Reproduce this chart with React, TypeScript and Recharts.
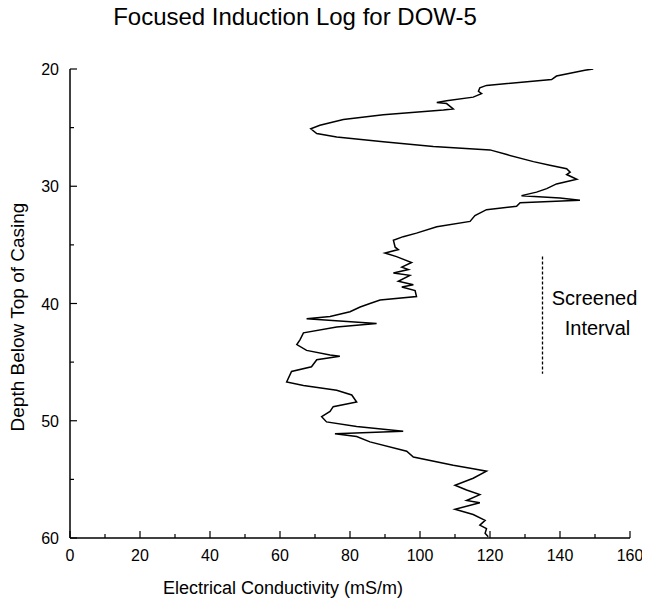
import React from "react";
import { LineChart, Line, XAxis, YAxis, ReferenceLine } from "recharts";

const depths = [
  20.0, 20.1, 20.6, 20.9, 21.4, 21.6, 21.9, 22.1, 22.4, 22.7, 22.85, 22.95, 23.4, 23.5, 23.9, 24.3, 24.8, 25.1, 25.5, 25.8,
  26.2, 26.6, 26.9, 27.3, 27.9, 28.2, 28.5, 28.8, 29.0, 29.4, 29.8, 30.2, 30.5, 30.8, 31.0, 31.2, 31.4, 31.7, 32.0, 32.5,
  33.0, 33.45, 34.0, 34.3, 34.6, 35.2, 35.4, 35.7, 36.0, 36.5, 36.9, 37.1, 37.4, 37.6, 38.1, 38.4, 38.6, 38.9, 39.4, 39.7,
  40.0, 40.3, 40.7, 41.1, 41.3, 41.7, 42.0, 42.5, 43.1, 43.5, 44.0, 44.4, 44.5, 44.8, 45.4, 45.8, 46.7, 47.0, 47.4, 47.8,
  48.4, 48.8, 49.2, 49.65, 50.1, 50.5, 50.9, 51.1, 51.35, 51.8, 52.6, 53.1, 53.8, 54.1, 54.3, 54.9, 55.5, 55.9, 56.3, 56.8,
  57.0, 57.55, 58.0, 58.5, 58.9, 59.2, 59.6, 59.9,
];

const conductivity = [
  149.5, 147.1, 139, 137.6, 119, 117.1, 116.7, 117.6, 115.2, 107.6, 104.8, 107.6, 109.5, 106.7, 89.5, 78.1, 71.4, 68.8, 70.5, 76.2,
  89.5, 103.8, 120, 124.8, 132.4, 137.1, 141.9, 142.9, 141.9, 144.8, 139, 136.2, 133.3, 129, 140, 145.7, 128.6, 127.6, 119, 115.7,
  114.3, 104.8, 99, 95.2, 92.4, 92.9, 93.8, 90, 93.3, 97.6, 94.8, 96.7, 92.4, 97.1, 93.8, 98.1, 94.8, 98.6, 99, 88.6,
  85.7, 82.9, 80, 74.3, 67.6, 87.6, 76.2, 66.7, 65.7, 64.8, 67.6, 74.3, 77.1, 70.5, 69, 63.3, 61.9, 66.7, 76.2, 80.5,
  81.9, 75.2, 74.3, 71.9, 73.3, 81.9, 95.2, 75.7, 81.9, 85.7, 96.2, 98.1, 109.5, 115.2, 119, 115.2, 110, 113.3, 117.1, 113.3,
  117.1, 110, 115.2, 118.6, 117.1, 119, 118.6, 119.5,
];

const xTicks = [0, 10, 20, 30, 40, 50, 60, 70, 80, 90, 100, 110, 120, 130, 140, 150, 160];
const yTicks = [20, 25, 30, 35, 40, 45, 50, 55, 60];

const screenedX = 135;
const screenedTop = 36;
const screenedBottom = 46;

const title = "Focused Induction Log for DOW-5";
const xTitle = "Electrical Conductivity (mS/m)";
const yTitle = "Depth Below Top of Casing";
const noteLines = ["Screened", "Interval"];

const data = depths.map((d, i) => ({ depth: d, cond: conductivity[i] }));

const FONT = "'Liberation Sans', Arial, Helvetica, sans-serif";

const XTick = (props: any) => {
  const { x, y, payload } = props;
  const v = payload.value;
  const major = v % 20 === 0;
  return (
    <g>
      <line x1={x} y1={y} x2={x} y2={y - (major ? 7 : 4)} stroke="#000" strokeWidth={1.2} />
      {major && (
        <text x={x} y={y + 23} textAnchor="middle" fontSize={16} fill="#000" fontFamily={FONT}>
          {v}
        </text>
      )}
    </g>
  );
};

const YTick = (props: any) => {
  const { x, y, payload } = props;
  const v = payload.value;
  const major = v % 10 === 0;
  return (
    <g>
      <line x1={x} y1={y} x2={x + (major ? 7 : 4)} y2={y} stroke="#000" strokeWidth={1.2} />
      {major && (
        <text x={x - 11} y={y + 6} textAnchor="end" fontSize={16} fill="#000" fontFamily={FONT}>
          {v}
        </text>
      )}
    </g>
  );
};

const XLabel = (props: any) => {
  const vb = props.viewBox || { x: 62, y: 530 };
  return (
    <text x={vb.x + 213} y={vb.y + 56} textAnchor="middle" fontSize={18} fill="#000" fontFamily={FONT}>
      {xTitle}
    </text>
  );
};

const YLabel = () => {
  const cx = 16;
  const cy = 309;
  return (
    <text
      x={cx}
      y={cy}
      textAnchor="middle"
      fontSize={19}
      fill="#000"
      fontFamily={FONT}
      transform={`rotate(-90 ${cx} ${cy})`}
    >
      {yTitle}
    </text>
  );
};

const NoteLabel = (props: any) => {
  const vb = props.viewBox || { x: 534, y: 247 };
  return (
    <g fontFamily={FONT} fontSize={20} fill="#000">
      <text x={vb.x + 52} y={vb.y + 48} textAnchor="middle">
        {noteLines[0]}
      </text>
      <text x={vb.x + 55} y={vb.y + 78} textAnchor="middle">
        {noteLines[1]}
      </text>
    </g>
  );
};

export default function App() {
  return (
    <div style={{ position: "relative", width: 642, height: 598 }}>
      <div
        style={{
          position: "absolute",
          left: 0,
          top: -5,
          width: 574,
          textAlign: "center",
          fontFamily: FONT,
          fontSize: 24,
          lineHeight: "28px",
          color: "#000",
        }}
      >
        {title}
      </div>
      <LineChart
        width={642}
        height={598}
        data={data}
        layout="vertical"
        margin={{ top: 61, right: 20, left: 0, bottom: 0 }}
      >
        <XAxis
          type="number"
          dataKey="cond"
          domain={[0, 160]}
          ticks={xTicks}
          interval={0}
          allowDataOverflow
          height={68}
          tickSize={0}
          tickMargin={0}
          tickLine={false}
          axisLine={{ stroke: "#000", strokeWidth: 1.5 }}
          tick={<XTick />}
          label={<XLabel />}
        />
        <YAxis
          type="number"
          dataKey="depth"
          domain={[20, 60]}
          ticks={yTicks}
          interval={0}
          allowDataOverflow
          width={62}
          tickSize={0}
          tickMargin={0}
          tickLine={false}
          axisLine={{ stroke: "#000", strokeWidth: 1.5 }}
          tick={<YTick />}
          label={<YLabel />}
        />
        <ReferenceLine
          segment={[
            { x: screenedX, y: screenedTop },
            { x: screenedX, y: screenedBottom },
          ]}
          stroke="#000"
          strokeWidth={1.3}
          strokeDasharray="3 2"
          ifOverflow="visible"
          label={<NoteLabel />}
        />
        <Line
          dataKey="cond"
          stroke="#000"
          strokeWidth={1.5}
          dot={false}
          type="linear"
          isAnimationActive={false}
        />
      </LineChart>
    </div>
  );
}
